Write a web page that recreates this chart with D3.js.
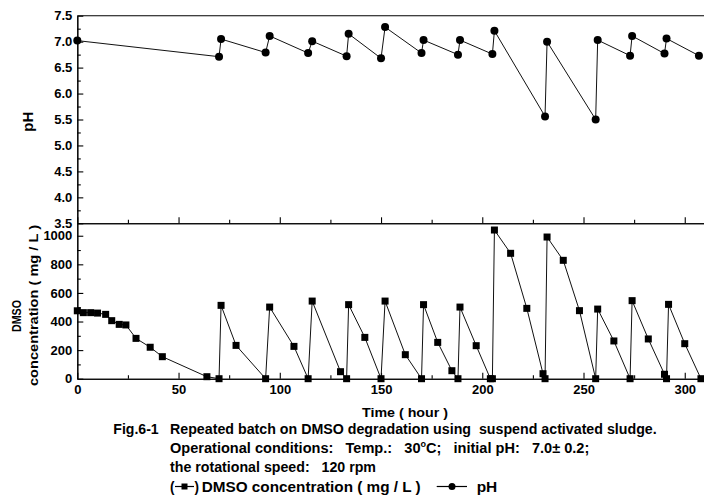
<!DOCTYPE html>
<html>
<head>
<meta charset="utf-8">
<script src="https://cdn.jsdelivr.net/npm/d3@7"></script>
<style>
  body { margin: 0; background: #fff; }
  svg { font-family: "Liberation Sans", Arial, sans-serif; font-weight: bold; }
  svg text { white-space: pre; }
  .axis path, .axis line { stroke: #000; stroke-width: 1.1; }
  .axis text { font-size: 13px; font-weight: bold; fill: #000; font-family: "Liberation Sans", Arial, sans-serif; }
</style>
</head>
<body>
<div id="chart"></div>
<script>
// pH readings (top panel)
var phTime  = [0, 70, 71, 93, 95, 114, 116, 133, 134, 150, 152, 170, 171, 188, 189, 205, 206, 231, 232, 256, 257, 273, 274, 290, 291, 307];
var phValue = [7.02, 6.71, 7.05, 6.79, 7.11, 6.78, 7.01, 6.72, 7.15, 6.68, 7.28, 6.78, 7.03, 6.75, 7.03, 6.76, 7.21, 5.56, 7.00, 5.50, 7.03, 6.73, 7.11, 6.77, 7.06, 6.73];

// DMSO concentration (bottom panel)
var dmsoTime  = [0, 3, 6.6, 10, 14, 17, 20.7, 24, 29, 36, 42, 64, 70, 71, 78.4, 93, 95, 107, 114, 116, 130, 133, 134, 142, 150, 152, 162, 170, 171, 178, 185, 188, 189, 197, 204, 205, 206, 214, 222, 230, 231, 232, 240, 248, 256, 257, 265, 273, 274, 282, 290, 291, 292, 300, 308];
var dmsoValue = [475, 462, 462, 459, 450, 406, 380, 376, 282, 220, 154, 14, 0, 513, 233, 0, 501, 226, 0, 543, 49, 0, 518, 289, 0, 543, 168, 0, 518, 254, 56, 0, 501, 231, 0, 0, 1040, 877, 492, 35, 0, 991, 828, 476, 0, 487, 264, 0, 546, 278, 31, 0, 520, 245, 0];

var xMajor = [0, 50, 100, 150, 200, 250, 300];
var xMinor = [25, 75, 125, 175, 225, 275];
var phMajor = [3.5, 4.0, 4.5, 5.0, 5.5, 6.0, 6.5, 7.0, 7.5];
var phMinor = [3.75, 4.25, 4.75, 5.25, 5.75, 6.25, 6.75, 7.25];
var dmsoMajor = [0, 200, 400, 600, 800, 1000];
var dmsoMinor = [100, 300, 500, 700, 900];

var width = 704, height = 500;
var left = 77.3, right = 705;
var topY = 15.7, midY = 223.3, botY = 378.7;

var svg = d3.select("#chart").append("svg")
    .attr("width", width)
    .attr("height", height);

var x = d3.scaleLinear().domain([0, 310]).range([left, right]);
var yPh = d3.scaleLinear().domain([3.5, 7.5]).range([midY, topY]);
var yDmso = d3.scaleLinear().domain([0, 1087]).range([botY, midY]);

// top panel border line
svg.append("line")
    .attr("x1", left).attr("x2", width)
    .attr("y1", topY).attr("y2", topY)
    .attr("stroke", "#000").attr("stroke-width", 1.1);

// top panel axes
svg.append("g").attr("class", "axis")
    .attr("transform", "translate(" + left + ",0)")
    .call(d3.axisLeft(yPh).tickValues(phMajor).tickSize(-6).tickSizeOuter(0).tickPadding(5)
      .tickFormat(d3.format(".1f")));
svg.append("g").attr("class", "axis")
    .attr("transform", "translate(" + left + ",0)")
    .call(d3.axisLeft(yPh).tickValues(phMinor).tickSize(-3.5).tickSizeOuter(0).tickFormat(""));
svg.append("g").attr("class", "axis")
    .attr("transform", "translate(0," + midY + ")")
    .call(d3.axisBottom(x).tickValues(xMajor).tickSize(-6).tickSizeOuter(0).tickFormat(""));
svg.append("g").attr("class", "axis")
    .attr("transform", "translate(0," + midY + ")")
    .call(d3.axisBottom(x).tickValues(xMinor).tickSize(-3.5).tickSizeOuter(0).tickFormat(""));

// bottom panel axes
svg.append("g").attr("class", "axis")
    .attr("transform", "translate(" + left + ",0)")
    .call(d3.axisLeft(yDmso).tickValues(dmsoMajor).tickSize(-6).tickSizeOuter(0).tickPadding(5)
      .tickFormat(d3.format("d")));
svg.append("g").attr("class", "axis")
    .attr("transform", "translate(" + left + ",0)")
    .call(d3.axisLeft(yDmso).tickValues(dmsoMinor).tickSize(-3.5).tickSizeOuter(0).tickFormat(""));
svg.append("g").attr("class", "axis")
    .attr("transform", "translate(0," + botY + ")")
    .call(d3.axisBottom(x).tickValues(xMajor).tickSize(-6).tickSizeOuter(0).tickPadding(6.5));
svg.append("g").attr("class", "axis")
    .attr("transform", "translate(0," + botY + ")")
    .call(d3.axisBottom(x).tickValues(xMinor).tickSize(-3.5).tickSizeOuter(0).tickFormat(""));

// pH series
var phData = phTime.map(function(t, i) { return {t: t, v: phValue[i]}; });
svg.append("path")
    .datum(phData)
    .attr("fill", "none")
    .attr("stroke", "#111")
    .attr("stroke-width", 1)
    .attr("d", d3.line().x(function(d) { return x(d.t); }).y(function(d) { return yPh(d.v); }));
svg.append("g").selectAll("circle")
    .data(phData)
  .enter().append("circle")
    .attr("cx", function(d) { return x(d.t); })
    .attr("cy", function(d) { return yPh(d.v); })
    .attr("r", 4)
    .attr("fill", "#000");

// DMSO series
var dmsoData = dmsoTime.map(function(t, i) { return {t: t, v: dmsoValue[i]}; });
svg.append("path")
    .datum(dmsoData)
    .attr("fill", "none")
    .attr("stroke", "#111")
    .attr("stroke-width", 1)
    .attr("d", d3.line().x(function(d) { return x(d.t); }).y(function(d) { return yDmso(d.v); }));
svg.append("g").selectAll("rect")
    .data(dmsoData)
  .enter().append("rect")
    .attr("x", function(d) { return x(d.t) - 3.5; })
    .attr("y", function(d) { return yDmso(d.v) - 3.5; })
    .attr("width", 7)
    .attr("height", 7)
    .attr("fill", "#000");

// axis titles and caption
function label(txt, x0, y0, size, len, rot) {
  var t = svg.append("text")
      .attr("font-size", size)
      .attr("font-weight", "bold")
      .attr("fill", "#000")
      .text(txt);
  if (rot) {
    t.attr("transform", "translate(" + x0 + "," + y0 + ") rotate(-90)")
     .attr("text-anchor", "middle");
  } else {
    t.attr("x", x0).attr("y", y0);
  }
  if (len) t.attr("textLength", len).attr("lengthAdjust", "spacingAndGlyphs");
  return t;
}

label("pH", 32.5, 121.7, 15, 20, true);
label("DMSO", 20.5, 316, 13.5, 32, true);
label("concentration ( mg / L )", 37.5, 305.5, 13.5, 161, true);

label("Time ( hour )", 362, 417, 13, 86);
label("Fig.6-1", 113.3, 434, 14.5, 45.4);
label("Repeated batch on DMSO degradation using  suspend activated sludge.", 170, 434, 14.5, 486.7);

// conditions line with superscript degree "o"
var cond = label("Operational conditions:   Temp.:   30", 170, 452.5, 14.5, 419.3);
cond.append("tspan").attr("font-size", 9).attr("dy", -6).text("o");
cond.append("tspan").attr("dy", 6).text("C;   initial pH:   7.0\u00b1 0.2;");

label("the rotational speed:   120 rpm", 170, 472, 14.5, 206);

// legend line
label("(", 170, 491.5, 14.5, 4.5);
svg.append("line").attr("x1", 175).attr("x2", 194).attr("y1", 486.5).attr("y2", 486.5)
    .attr("stroke", "#000").attr("stroke-width", 1.2);
svg.append("rect").attr("x", 181.5).attr("y", 483.5).attr("width", 6).attr("height", 6).attr("fill", "#000");
label(")", 194.5, 491.5, 14.5, 4.5);
label("DMSO concentration ( mg / L )", 201.7, 491.5, 14.5, 219);
svg.append("line").attr("x1", 436.7).attr("x2", 467).attr("y1", 486.5).attr("y2", 486.5)
    .attr("stroke", "#000").attr("stroke-width", 1.2);
svg.append("circle").attr("cx", 452).attr("cy", 486.5).attr("r", 3.5).attr("fill", "#000");
label("pH", 476.7, 491.5, 14.5, 20.6);
</script>
</body>
</html>
